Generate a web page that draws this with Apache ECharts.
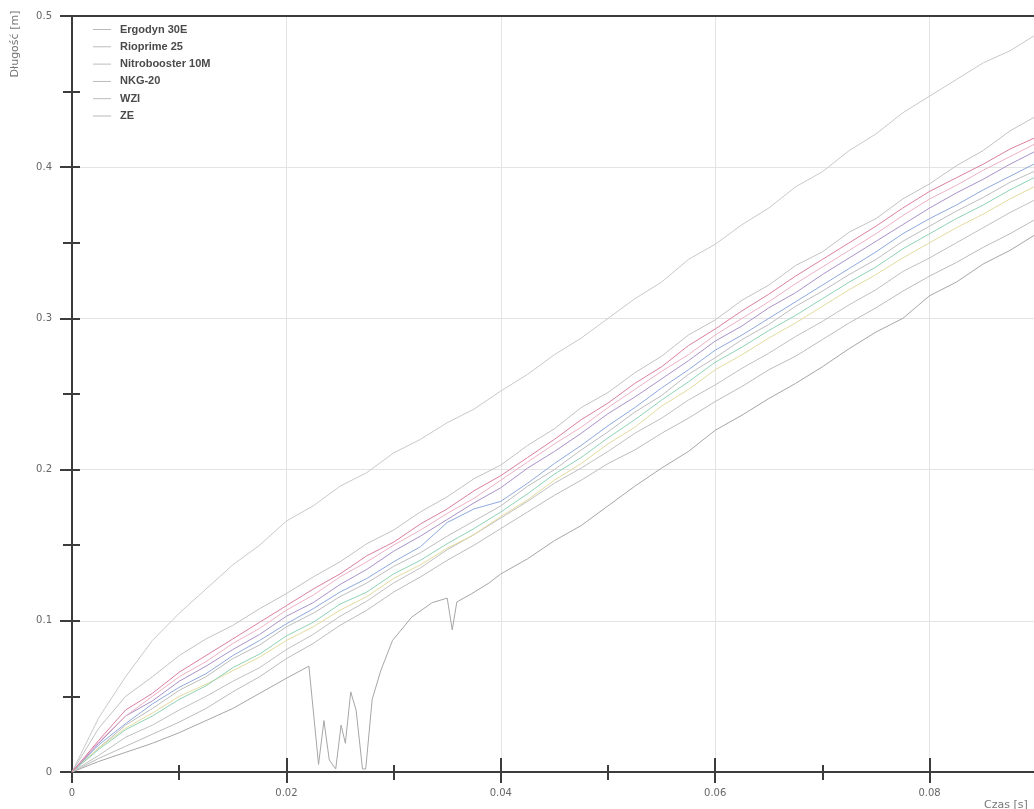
<!DOCTYPE html>
<html>
<head>
<meta charset="utf-8">
<title>Długość [m] / Czas [s]</title>
<script src="https://cdn.jsdelivr.net/npm/echarts@6/dist/echarts.min.js"></script>
<style>
	html, body { margin: 0; padding: 0; background: #fff; overflow: hidden; }
	/* the plot runs on past the right edge of the window, as in the picture */
	#wykres { width: 1147px; height: 809px; }
</style>
</head>
<body>
<div id="wykres"></div>
<script>
	'use strict';

	// legend
	var nazwy = ['Ergodyn 30E', 'Rioprime 25', 'Nitrobooster 10M', 'NKG-20', 'WZI', 'ZE'];

	// tick labels
	var osX = [0, 0.02, 0.04, 0.06, 0.08];
	var osY = [0, 0.1, 0.2, 0.3, 0.4, 0.5];

	// time samples [s], shared by the regular runs
	var czas = [0, 0.0025, 0.005, 0.0075, 0.01, 0.0125, 0.015, 0.0175, 0.02, 0.0225, 0.025, 0.0275, 0.03,
		0.0325, 0.035, 0.0375, 0.04, 0.0425, 0.045, 0.0475, 0.05, 0.0525, 0.055, 0.0575, 0.06, 0.0625,
		0.065, 0.0675, 0.07, 0.0725, 0.075, 0.0775, 0.08, 0.0825, 0.085, 0.0875, 0.09];

	// distance [m]
	var zeA = [0, .036, .063, .087, .105, .121, .137, .150, .166, .176, .189, .198, .211, .220, .231, .240, .252, .263, .276,
		.287, .300, .313, .324, .339, .349, .362, .373, .387, .397, .411, .422, .436, .447, .458, .469, .477, .488];
	var nkgA = [0, .029, .050, .063, .077, .088, .097, .108, .118, .129, .139, .151, .160, .172, .182, .194, .203, .216, .227,
		.241, .251, .264, .275, .289, .299, .312, .322, .335, .344, .357, .366, .379, .389, .401, .411, .424, .434];
	var ergA = [0, .021, .041, .052, .066, .077, .088, .099, .110, .121, .131, .143, .152, .164, .174, .186, .196, .208, .220,
		.233, .244, .257, .268, .282, .293, .305, .316, .328, .339, .350, .361, .373, .384, .393, .402, .412, .420];
	var ergB = [0, .020, .037, .050, .063, .073, .085, .095, .107, .117, .129, .139, .150, .160, .171, .181, .193, .205, .217,
		.228, .241, .253, .265, .276, .289, .300, .311, .323, .334, .345, .356, .368, .379, .388, .398, .407, .416];
	var rioA = [0, .019, .037, .047, .060, .070, .081, .091, .103, .112, .124, .134, .146, .156, .167, .178, .188, .201, .212,
		.224, .237, .248, .260, .272, .285, .295, .307, .317, .329, .340, .351, .362, .373, .383, .392, .402, .411];
	var rioB = [0, .018, .032, .045, .056, .065, .077, .087, .098, .108, .119, .128, .139, .149, .165, .174, .179, .191, .204,
		.216, .229, .241, .254, .266, .279, .289, .300, .311, .322, .333, .344, .356, .366, .375, .385, .394, .403];
	var nkgB = [0, .016, .031, .042, .054, .063, .075, .084, .096, .105, .116, .125, .136, .145, .156, .166, .176, .189, .200,
		.213, .225, .238, .249, .263, .274, .286, .296, .308, .318, .329, .339, .351, .361, .371, .380, .390, .398];
	var nitA = [0, .015, .028, .037, .048, .057, .069, .078, .090, .099, .111, .119, .131, .140, .151, .161, .172, .184, .197,
		.208, .221, .233, .246, .258, .271, .281, .292, .302, .313, .324, .334, .346, .356, .366, .375, .385, .394];
	var nitB = [0, .016, .029, .039, .050, .058, .067, .076, .087, .096, .107, .116, .128, .137, .148, .157, .169, .180, .193,
		.204, .217, .228, .242, .253, .266, .276, .287, .297, .308, .319, .329, .340, .350, .360, .369, .379, .388];
	var wziA = [0, .011, .023, .031, .041, .050, .060, .069, .081, .091, .103, .113, .125, .135, .147, .157, .168, .179, .191,
		.201, .212, .224, .234, .246, .256, .267, .277, .288, .298, .309, .319, .331, .340, .350, .360, .370, .379];
	var wziB = [0, .009, .017, .025, .033, .042, .053, .063, .075, .085, .097, .107, .119, .129, .140, .150, .161, .172, .183,
		.193, .204, .213, .224, .234, .245, .255, .266, .275, .286, .297, .307, .318, .328, .337, .347, .356, .366];

	// the run that loses contact around 0.022 s has its own time samples
	var czasZeB = [0, 0.0025, 0.005, 0.0075, 0.01, 0.0125, 0.015, 0.0175, 0.02, 0.0221, 0.0230, 0.0235, 0.0240, 0.0246,
		0.0251, 0.0255, 0.0260, 0.0265, 0.0271, 0.0274, 0.0280, 0.0288, 0.0299, 0.0317, 0.0336, 0.0350, 0.03547,
		0.0359, 0.0373, 0.0389, 0.040, 0.0425, 0.045, 0.0475, 0.05, 0.0525, 0.055, 0.0575, 0.06, 0.0625, 0.065,
		0.0675, 0.07, 0.0725, 0.075, 0.0775, 0.08, 0.0825, 0.085, 0.0875, 0.09];
	var zeB = [0, .007, .013, .019, .026, .034, .042, .052, .062, .070, .005, .034, .008, .002, .031, .019, .053, .041,
		.002, .002, .048, .067, .087, .1025, .112, .115, .094, .1125, .118, .125, .131, .141, .153, .163, .176, .189,
		.201, .212, .226, .236, .247, .257, .268, .280, .291, .300, .315, .324, .336, .345, .356];

	function linia(nazwa, kolor, t, s) {
		var punkty = [];
		for (var i = 0; i < s.length; i++) {
			punkty.push([t[i], s[i]]);
		}
		return {
			name: nazwa,
			type: 'line',
			data: punkty,
			symbol: 'none',
			showSymbol: false,
			silent: true,
			lineStyle: { color: kolor, width: 1 },
			itemStyle: { color: kolor },
			emphasis: { disabled: true }
		};
	}

	var kolorOsi = '#3c3c3c';
	var czcionka = 'DejaVu Sans';

	var series = [
		linia('ZE', '#a6a6a6', czasZeB, zeB),
		linia('ZE', '#c9c9c9', czas, zeA),
		linia('WZI', '#bcbcbc', czas, wziB),
		linia('WZI', '#c0c0c0', czas, wziA),
		linia('NKG-20', '#c2c2c2', czas, nkgA),
		linia('NKG-20', '#bdbdbd', czas, nkgB),
		linia('Nitrobooster 10M', '#e2dba0', czas, nitB),
		linia('Nitrobooster 10M', '#8fd2b4', czas, nitA),
		linia('Rioprime 25', '#8ea9dc', czas, rioB),
		linia('Rioprime 25', '#a992c9', czas, rioA),
		linia('Ergodyn 30E', '#eeb1c4', czas, ergB),
		linia('Ergodyn 30E', '#d97fa3', czas, ergA)
	];

	// one axis pair carries labels and outside ticks, the other only inside ticks
	var xAxis = [{
		type: 'value', position: 'bottom', min: 0, max: 0.1, interval: 0.02,
		axisLine: { onZero: false, lineStyle: { color: kolorOsi, width: 2 } },
		axisTick: { show: true, length: 11, lineStyle: { color: kolorOsi, width: 2 } },
		minorTick: { show: true, splitNumber: 2, length: 8, lineStyle: { color: kolorOsi, width: 2 } },
		splitLine: { show: true, lineStyle: { color: '#e4e4e4', width: 1 } },
		axisLabel: {
			margin: 16, color: '#666', fontSize: 10, fontFamily: czcionka,
			formatter: function (v) { return osX.indexOf(v) >= 0 ? String(v) : ''; }
		}
	}, {
		type: 'value', position: 'top', min: 0, max: 0.1, interval: 0.02,
		axisLine: { onZero: false, lineStyle: { color: kolorOsi, width: 2 } },
		axisTick: { show: false }, axisLabel: { show: false }, splitLine: { show: false }
	}, {
		type: 'value', position: 'bottom', min: 0, max: 0.1, interval: 0.02,
		axisLine: { show: false },
		axisTick: { show: true, inside: true, length: 14, lineStyle: { color: kolorOsi, width: 2 } },
		minorTick: { show: true, splitNumber: 2, length: 7, lineStyle: { color: kolorOsi, width: 2 } },
		axisLabel: { show: false }, splitLine: { show: false }
	}];

	var yAxis = [{
		type: 'value', position: 'left', min: 0, max: 0.5, interval: 0.1,
		axisLine: { onZero: false, lineStyle: { color: kolorOsi, width: 2 } },
		axisTick: { show: true, length: 12, lineStyle: { color: kolorOsi, width: 2 } },
		minorTick: { show: true, splitNumber: 2, length: 9, lineStyle: { color: kolorOsi, width: 2 } },
		splitLine: { show: true, lineStyle: { color: '#e4e4e4', width: 1 } },
		axisLabel: {
			margin: 20, color: '#666', fontSize: 10, fontFamily: czcionka,
			formatter: function (v) { return osY.indexOf(v) >= 0 ? String(v) : ''; }
		}
	}, {
		type: 'value', position: 'left', min: 0, max: 0.5, interval: 0.1,
		axisLine: { show: false },
		axisTick: { show: true, inside: true, length: 8, lineStyle: { color: kolorOsi, width: 2 } },
		minorTick: { show: true, splitNumber: 2, length: 8, lineStyle: { color: kolorOsi, width: 2 } },
		axisLabel: { show: false }, splitLine: { show: false }
	}];

	var option = {
		backgroundColor: '#fff',
		animation: false,
		grid: { left: 72, top: 16, bottom: 37, right: 0, containLabel: false },
		legend: {
			data: nazwy,
			orient: 'vertical',
			left: 93,
			top: 24,
			padding: 0,
			icon: 'path://M0 0H20V1H0Z',
			itemWidth: 18,
			itemHeight: 12,
			itemGap: 6.3,
			selectedMode: false,
			itemStyle: { color: '#b4b4b4', borderWidth: 0 },
			textStyle: {
				color: '#4a4a4a', fontSize: 11, fontWeight: 'bold', fontFamily: 'Liberation Sans',
				padding: [0, 0, 0, 4]
			}
		},
		xAxis: xAxis,
		yAxis: yAxis,
		graphic: [{
			type: 'text',
			x: 15, y: 44,
			rotation: Math.PI / 2,
			silent: true,
			style: {
				text: 'Długość [m]', fill: '#777', fontSize: 11, fontFamily: czcionka,
				align: 'center', verticalAlign: 'middle'
			}
		}, {
			type: 'text',
			x: 984, y: 800,
			silent: true,
			style: {
				text: 'Czas [s]', fill: '#777', fontSize: 11, fontFamily: czcionka,
				align: 'left', verticalAlign: 'top'
			}
		}],
		series: series
	};

	var wykres = echarts.init(document.getElementById('wykres'));
	wykres.setOption(option);
</script>
</body>
</html>
